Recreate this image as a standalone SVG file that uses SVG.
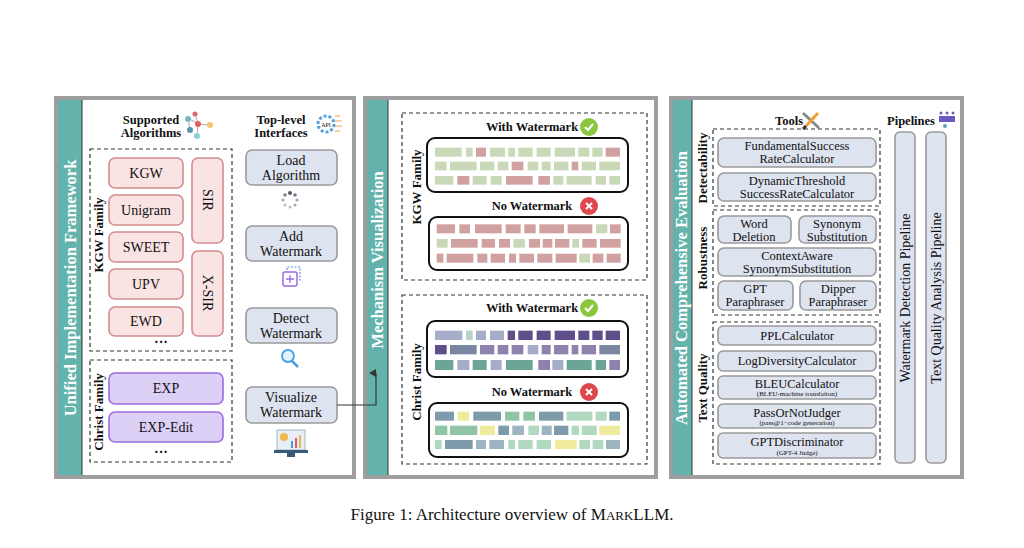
<svg xmlns="http://www.w3.org/2000/svg" width="1024" height="548" viewBox="0 0 1024 548">
<style>
text{font-family:"Liberation Serif","Times New Roman",serif;fill:#111}
.pan{fill:#fff;stroke:#9e9e9e;stroke-width:4}
.strip{fill:#63b2ac}
.st{fill:#fff;font-weight:bold;font-size:16.5px}
.dash{fill:none;stroke:#333;stroke-width:1.2;stroke-dasharray:4 3}
.pk{fill:#f9e3e3;stroke:#d58c8c;stroke-width:1.6}
.pu{fill:#ddd0f7;stroke:#9a6be0;stroke-width:1.6}
.bl{fill:#dde3ef;stroke:#9a9a9a;stroke-width:1.6}
.t13{font-size:14px;text-anchor:middle}
.t12{font-size:12.5px;text-anchor:middle}
.t11{font-size:11px;text-anchor:middle}
.t7{font-size:7px;text-anchor:middle}
.tp{font-size:14px;text-anchor:middle}
.hb{font-size:12.5px;font-weight:bold;text-anchor:middle}
.fb{font-size:13px;font-weight:bold;text-anchor:middle}
.wb{fill:#fff;stroke:#111;stroke-width:2}
.g{fill:#c9d8b7}.r{fill:#d1a0a0}
.A{fill:#a6adc8}.D{fill:#5e4f8b}.S{fill:#7b86a1}.P{fill:#8f81ae}.T{fill:#6ca596}.Tl{fill:#b5d4cb}
.B{fill:#7e9bab}.Y{fill:#efeb9c}.G{fill:#8fc4a6}.L{fill:#b0d9c0}.B2{fill:#9eb4c1}
</style>
<defs>
<marker id="ar" markerWidth="8" markerHeight="8" refX="4" refY="7" orient="auto" markerUnits="userSpaceOnUse"><path d="M0,7 L4,0 L8,7 Z" fill="#333"/></marker>
</defs>

<!-- Panel 1 -->
<g id="panel1">
<rect class="pan" x="56" y="98" width="298" height="379"/>
<rect class="strip" x="58" y="100" width="24" height="375"/>
<line x1="82" y1="100" x2="82" y2="475" stroke="#333" stroke-width="1"/>
<text class="st" text-anchor="middle" transform="translate(76 288) rotate(-90)">Unified Implementation Framework</text>
<text class="hb" x="151" y="124">Supported</text><text class="hb" x="151" y="137">Algorithms</text>
<g><line x1="188" y1="118" x2="198" y2="124" stroke="#aaa"/><line x1="198" y1="124" x2="210" y2="125" stroke="#aaa"/><line x1="198" y1="124" x2="197" y2="136" stroke="#aaa"/><line x1="188" y1="118" x2="190" y2="130" stroke="#aaa"/><line x1="195" y1="114" x2="198" y2="124" stroke="#aaa"/>
<circle cx="188" cy="119" r="3" fill="#7ab8c8"/><circle cx="195" cy="114" r="2.5" fill="#d86b6b"/><circle cx="198" cy="124" r="3" fill="#e06060"/><circle cx="210" cy="125" r="3" fill="#f3c56e"/><circle cx="190" cy="130" r="3" fill="#5b93a8"/><circle cx="197" cy="136" r="3" fill="#8fd0d8"/></g>
<text class="hb" x="281" y="124">Top-level</text><text class="hb" x="281" y="137">Interfaces</text>
<g><circle cx="326" cy="124" r="8" fill="none" stroke="#5aa0e0" stroke-width="3" stroke-dasharray="3 2"/><text x="326" y="127" font-size="6" text-anchor="middle" fill="#5aa0e0">API</text>
<path d="M335,116 h5 M335,121 h7 M335,126 h7 M335,131 h5" stroke="#f0a050" stroke-width="1.2"/></g>
</g>
<g id="kgw-family">
<rect class="dash" x="90" y="149" width="142" height="202"/>
<text class="fb" transform="translate(103 235) rotate(-90)">KGW Family</text>
</g>
<g id="kgw"><rect class="pk" x="109" y="158" width="74" height="30" rx="6"/><text class="t13" x="146" y="178">KGW</text></g>
<g id="unigram"><rect class="pk" x="109" y="195" width="74" height="30" rx="6"/><text class="t13" x="146" y="215">Unigram</text></g>
<g id="sweet"><rect class="pk" x="109" y="232" width="74" height="30" rx="6"/><text class="t13" x="146" y="252">SWEET</text></g>
<g id="upv"><rect class="pk" x="109" y="269" width="74" height="30" rx="6"/><text class="t13" x="146" y="289">UPV</text></g>
<g id="ewd"><rect class="pk" x="109" y="307" width="74" height="29" rx="6"/><text class="t13" x="146" y="326">EWD</text></g>
<g id="sir"><rect class="pk" x="192" y="158" width="31" height="85" rx="6"/><text class="t13" transform="translate(203 200) rotate(90)">SIR</text></g>
<g id="xsir"><rect class="pk" x="192" y="251" width="31" height="85" rx="6"/><text class="t13" transform="translate(203 293) rotate(90)">X-SIR</text></g>
<text x="161" y="347" font-size="14" font-weight="bold" text-anchor="middle">···</text>
<g id="christ-family1">
<rect class="dash" x="90" y="360" width="142" height="102"/>
<text class="fb" transform="translate(103 412) rotate(-90)">Christ Family</text>
</g>
<g id="exp"><rect class="pu" x="109" y="373" width="114" height="31" rx="6"/><text class="t13" x="166" y="393">EXP</text></g>
<g id="exp-edit"><rect class="pu" x="109" y="412" width="114" height="30" rx="6"/><text class="t13" x="166" y="432">EXP-Edit</text></g>
<text x="161" y="457" font-size="14" font-weight="bold" text-anchor="middle">···</text>

<g id="load"><rect class="bl" x="246" y="150" width="91" height="35" rx="6"/><text class="t13" x="291" y="165">Load</text><text class="t13" x="291" y="180">Algorithm</text></g>
<g fill="#9aa">
<circle cx="290" cy="193" r="2" fill="#556"/><circle cx="295" cy="195" r="1.8" fill="#778"/><circle cx="297" cy="200" r="1.6"/><circle cx="295" cy="205" r="1.5"/><circle cx="290" cy="207" r="1.5" fill="#bbb"/><circle cx="285" cy="205" r="1.5" fill="#bbb"/><circle cx="283" cy="200" r="1.6" fill="#aaa"/><circle cx="285" cy="195" r="1.8" fill="#888"/>
</g>
<g id="add"><rect class="bl" x="246" y="226" width="91" height="35" rx="6"/><text class="t13" x="291" y="241">Add</text><text class="t13" x="291" y="256">Watermark</text></g>
<rect x="283" y="272" width="14" height="14" rx="2" fill="none" stroke="#9a6be0" stroke-width="1.5"/><path d="M290,275 v8 M286,279 h8" stroke="#9a6be0" stroke-width="1.3"/>
<path d="M287,270 v-3 h13 v13 h-3" fill="none" stroke="#6b8de0" stroke-width="1.2" stroke-dasharray="2 1.5"/>
<g id="detect"><rect class="bl" x="246" y="308" width="91" height="35" rx="6"/><text class="t13" x="291" y="323">Detect</text><text class="t13" x="291" y="338">Watermark</text></g>
<circle cx="288" cy="356" r="6" fill="#e8f4fc" stroke="#4a9ee0" stroke-width="1.8"/><line x1="292" y1="361" x2="298" y2="367" stroke="#4a9ee0" stroke-width="2.5"/>
<g id="visualize"><rect class="bl" x="246" y="387" width="91" height="36" rx="6"/><text class="t13" x="291" y="402">Visualize</text><text class="t13" x="291" y="417">Watermark</text></g>
<g><rect x="277" y="430" width="28" height="20" fill="#e8eef7" stroke="#8aa" stroke-width="0.8"/><circle cx="284" cy="437" r="4" fill="#f2b84b"/><rect x="291" y="441" width="2" height="7" fill="#4a9ee0"/><rect x="295" y="438" width="2" height="10" fill="#e05c5c"/><rect x="299" y="435" width="2" height="13" fill="#f2b84b"/><rect x="274" y="450" width="34" height="3" fill="#3a5a7a"/><rect x="287" y="453" width="8" height="4" fill="#3a5a7a"/></g>

<!-- Panel 2 -->
<g id="panel2">
<rect class="pan" x="365" y="98" width="291" height="379"/>
<rect class="strip" x="367" y="100" width="21" height="375"/>
<line x1="388" y1="100" x2="388" y2="475" stroke="#333" stroke-width="1"/>
<text class="st" text-anchor="middle" transform="translate(383 260) rotate(-90)">Mechanism Visualization</text>
</g>
<g id="kgw-vis">
<rect class="dash" x="402" y="113" width="245" height="167"/>
<text class="fb" transform="translate(421 187) rotate(-90)">KGW Family</text>
<text class="hb" x="532" y="131">With Watermark</text>
<circle cx="589" cy="127" r="9" fill="#8cc63f"/><path d="M585,127 l3,3 l5,-6" fill="none" stroke="#fff" stroke-width="2"/>
<rect class="wb" x="427" y="138" width="201" height="54" rx="8"/>
<text class="hb" x="532" y="210">No Watermark</text>
<circle cx="589" cy="206" r="9" fill="#e0474c"/><path d="M586,203 l6,6 M592,203 l-6,6" stroke="#fff" stroke-width="2"/>
<rect class="wb" x="429" y="217" width="199" height="53" rx="8"/>
</g>
<g id="christ-vis">
<rect class="dash" x="402" y="295" width="245" height="169"/>
<text class="fb" transform="translate(421 382) rotate(-90)">Christ Family</text>
<text class="hb" x="532" y="312">With Watermark</text>
<circle cx="589" cy="308" r="9" fill="#8cc63f"/><path d="M585,308 l3,3 l5,-6" fill="none" stroke="#fff" stroke-width="2"/>
<rect class="wb" x="427" y="321" width="201" height="56" rx="8"/>
<text class="hb" x="532" y="396">No Watermark</text>
<circle cx="589" cy="392" r="9" fill="#e0474c"/><path d="M586,389 l6,6 M592,389 l-6,6" stroke="#fff" stroke-width="2"/>
<rect class="wb" x="429" y="403" width="199" height="54" rx="8"/>
</g>
<g id="bars" transform="translate(360 95) scale(0.33333)">
<g transform="translate(0 158)">
<rect class="g" x="225" width="80" height="27"/><rect class="g" x="318" width="20" height="27"/><rect class="r" x="348" width="30" height="27"/><rect class="g" x="390" width="45" height="27"/><rect class="g" x="445" width="20" height="27"/><rect class="g" x="475" width="43" height="27"/><rect class="g" x="530" width="42" height="27"/><rect class="g" x="584" width="61" height="27"/><rect class="g" x="655" width="33" height="27"/><rect class="g" x="697" width="31" height="27"/><rect class="r" x="737" width="43" height="27"/>
</g>
<g transform="translate(0 200)">
<rect class="g" x="225" width="35" height="26"/><rect class="g" x="270" width="80" height="26"/><rect class="g" x="360" width="43" height="26"/><rect class="g" x="413" width="32" height="26"/><rect class="r" x="455" width="35" height="26"/><rect class="g" x="503" width="32" height="26"/><rect class="g" x="545" width="27" height="26"/><rect class="g" x="582" width="43" height="26"/><rect class="r" x="635" width="20" height="26"/><rect class="g" x="665" width="43" height="26"/><rect class="g" x="718" width="62" height="26"/>
</g>
<g transform="translate(0 243)">
<rect class="g" x="225" width="55" height="26"/><rect class="r" x="292" width="36" height="26"/><rect class="g" x="338" width="42" height="26"/><rect class="g" x="392" width="33" height="26"/><rect class="r" x="438" width="80" height="26"/><rect class="r" x="535" width="35" height="26"/><rect class="g" x="580" width="30" height="26"/><rect class="g" x="620" width="75" height="26"/><rect class="g" x="707" width="31" height="26"/><rect class="g" x="748" width="32" height="26"/>
</g>
<g transform="translate(0 388)">
<rect class="r" x="230" width="55" height="27"/><rect class="r" x="298" width="32" height="27"/><rect class="r" x="345" width="80" height="27"/><rect class="r" x="437" width="45" height="27"/><rect class="r" x="493" width="34" height="27"/><rect class="r" x="538" width="74" height="27"/><rect class="r" x="623" width="74" height="27"/><rect class="g" x="708" width="34" height="27"/><rect class="r" x="750" width="32" height="27"/>
</g>
<g transform="translate(0 432)">
<rect class="g" x="230" width="33" height="26"/><rect class="r" x="273" width="80" height="26"/><rect class="r" x="365" width="40" height="26"/><rect class="r" x="417" width="33" height="26"/><rect class="g" x="460" width="35" height="26"/><rect class="r" x="507" width="33" height="26"/><rect class="r" x="548" width="29" height="26"/><rect class="r" x="585" width="43" height="26"/><rect class="g" x="637" width="20" height="26"/><rect class="r" x="667" width="43" height="26"/><rect class="r" x="720" width="62" height="26"/>
</g>
<g transform="translate(0 476)">
<rect class="r" x="230" width="20" height="27"/><rect class="r" x="260" width="80" height="27"/><rect class="r" x="352" width="30" height="27"/><rect class="r" x="392" width="43" height="27"/><rect class="r" x="447" width="21" height="27"/><rect class="r" x="478" width="44" height="27"/><rect class="r" x="532" width="45" height="27"/><rect class="r" x="587" width="63" height="27"/><rect class="g" x="658" width="32" height="27"/><rect class="r" x="698" width="32" height="27"/><rect class="r" x="740" width="42" height="27"/>
</g>
<g transform="translate(0 707)">
<rect class="A" x="225" width="82" height="28"/><rect class="Tl" x="318" width="20" height="28"/><rect class="A" x="348" width="30" height="28"/><rect class="A" x="390" width="42" height="28"/><rect class="D" x="443" width="22" height="28"/><rect class="D" x="475" width="43" height="28"/><rect class="D" x="530" width="42" height="28"/><rect class="D" x="584" width="61" height="28"/><rect class="D" x="655" width="33" height="28"/><rect class="D" x="697" width="31" height="28"/><rect class="D" x="737" width="43" height="28"/>
</g>
<g transform="translate(0 750)">
<rect class="D" x="225" width="35" height="28"/><rect class="S" x="270" width="80" height="28"/><rect class="P" x="360" width="43" height="28"/><rect class="P" x="413" width="32" height="28"/><rect class="P" x="455" width="35" height="28"/><rect class="A" x="503" width="32" height="28"/><rect class="P" x="545" width="27" height="28"/><rect class="P" x="582" width="43" height="28"/><rect class="P" x="635" width="20" height="28"/><rect class="P" x="665" width="43" height="28"/><rect class="S" x="718" width="62" height="28"/>
</g>
<g transform="translate(0 795)">
<rect class="T" x="225" width="55" height="30"/><rect class="A" x="292" width="36" height="30"/><rect class="T" x="338" width="42" height="30"/><rect class="A" x="392" width="33" height="30"/><rect class="T" x="438" width="80" height="30"/><rect class="P" x="535" width="35" height="30"/><rect class="A" x="577" width="33" height="30"/><rect class="T" x="620" width="75" height="30"/><rect class="T" x="707" width="31" height="30"/><rect class="P" x="748" width="32" height="30"/>
</g>
<g transform="translate(0 950)">
<rect class="B" x="225" width="57" height="27"/><rect class="Y" x="293" width="34" height="27"/><rect class="B" x="340" width="83" height="27"/><rect class="G" x="435" width="43" height="27"/><rect class="G" x="490" width="35" height="27"/><rect class="B" x="537" width="73" height="27"/><rect class="L" x="620" width="77" height="27"/><rect class="L" x="707" width="33" height="27"/><rect class="B" x="748" width="32" height="27"/>
</g>
<g transform="translate(0 992)">
<rect class="G" x="225" width="37" height="28"/><rect class="G" x="270" width="82" height="28"/><rect class="Y" x="360" width="45" height="28"/><rect class="B" x="415" width="32" height="28"/><rect class="B2" x="457" width="35" height="28"/><rect class="L" x="505" width="32" height="28"/><rect class="B2" x="545" width="30" height="28"/><rect class="B" x="582" width="43" height="28"/><rect class="L" x="635" width="22" height="28"/><rect class="L" x="665" width="45" height="28"/><rect class="Y" x="718" width="62" height="28"/>
</g>
<g transform="translate(0 1035)">
<rect class="L" x="225" width="20" height="27"/><rect class="B" x="255" width="83" height="27"/><rect class="B2" x="348" width="30" height="27"/><rect class="B2" x="388" width="44" height="27"/><rect class="L" x="445" width="20" height="27"/><rect class="L" x="475" width="43" height="27"/><rect class="L" x="530" width="43" height="27"/><rect class="Y" x="585" width="65" height="27"/><rect class="L" x="658" width="32" height="27"/><rect class="L" x="698" width="32" height="27"/><rect class="B2" x="738" width="42" height="27"/>
</g>
</g>

<!-- Panel 3 -->
<g id="panel3">
<rect class="pan" x="671" y="98" width="291" height="379"/>
<rect class="strip" x="673" y="100" width="19" height="375"/>
<line x1="692" y1="100" x2="692" y2="475" stroke="#333" stroke-width="1"/>
<text class="st" text-anchor="middle" transform="translate(687 288) rotate(-90)">Automated Comprehensive Evaluation</text>
<text class="hb" x="789" y="125">Tools</text>
<g><line x1="803" y1="113" x2="819" y2="128" stroke="#888" stroke-width="3"/><line x1="818" y1="113" x2="806" y2="126" stroke="#f0a030" stroke-width="3"/><line x1="806" y1="126" x2="803" y2="129" stroke="#333" stroke-width="3"/></g>
<text class="hb" x="911" y="125">Pipelines</text>
<g><rect x="939" y="116" width="16" height="6" fill="#6a5ac0"/><circle cx="941" cy="113" r="1.5" fill="#6a5ac0"/><circle cx="947" cy="113" r="1.5" fill="#6a5ac0"/><circle cx="953" cy="113" r="1.5" fill="#6a5ac0"/><circle cx="945" cy="126" r="2" fill="#5aa0c0"/></g>
</g>
<g id="detectability">
<rect class="dash" x="713" y="129" width="167" height="77"/>
<text class="fb" transform="translate(707 168) rotate(-90)">Detectability</text>
</g>
<g id="fsr"><rect class="bl" x="718" y="138" width="158" height="29" rx="6"/><text class="t12" x="797" y="150">FundamentalSuccess</text><text class="t12" x="797" y="163">RateCalculator</text></g>
<g id="dtsr"><rect class="bl" x="718" y="173" width="158" height="28" rx="6"/><text class="t12" x="797" y="185">DynamicThreshold</text><text class="t12" x="797" y="198">SuccessRateCalculator</text></g>
<g id="robustness">
<rect class="dash" x="713" y="210" width="167" height="105"/>
<text class="fb" transform="translate(707 258) rotate(-90)">Robustness</text>
</g>
<g id="wd"><rect class="bl" x="718" y="216" width="73" height="27" rx="6"/><text class="t12" x="754" y="228">Word</text><text class="t12" x="754" y="241">Deletion</text></g>
<g id="ss"><rect class="bl" x="799" y="216" width="77" height="27" rx="6"/><text class="t12" x="837" y="228">Synonym</text><text class="t12" x="837" y="241">Substitution</text></g>
<g id="cass"><rect class="bl" x="718" y="248" width="158" height="28" rx="6"/><text class="t12" x="797" y="260">ContextAware</text><text class="t12" x="797" y="273">SynonymSubstitution</text></g>
<g id="gptp"><rect class="bl" x="718" y="281" width="75" height="29" rx="6"/><text class="t12" x="755" y="293">GPT</text><text class="t12" x="755" y="306">Paraphraser</text></g>
<g id="dip"><rect class="bl" x="800" y="281" width="76" height="29" rx="6"/><text class="t12" x="838" y="293">Dipper</text><text class="t12" x="838" y="306">Paraphraser</text></g>
<g id="textquality">
<rect class="dash" x="713" y="322" width="167" height="142"/>
<text class="fb" transform="translate(707 388) rotate(-90)">Text Quality</text>
</g>
<g id="ppl"><rect class="bl" x="718" y="326" width="158" height="19" rx="5"/><text class="t12" x="797" y="340">PPLCalculator</text></g>
<g id="logd"><rect class="bl" x="718" y="351" width="158" height="20" rx="5"/><text class="t12" x="797" y="365">LogDiversityCalculator</text></g>
<g id="bleu"><rect class="bl" x="718" y="376" width="158" height="23" rx="5"/><text class="t12" x="797" y="388">BLEUCalculator</text><text class="t7" x="797" y="396">(BLEU-machine translation)</text></g>
<g id="pass"><rect class="bl" x="718" y="404" width="158" height="24" rx="5"/><text class="t12" x="797" y="417">PassOrNotJudger</text><text class="t7" x="797" y="425">(pass@1−code generation)</text></g>
<g id="gptd"><rect class="bl" x="718" y="433" width="158" height="25" rx="5"/><text class="t12" x="797" y="446">GPTDiscriminator</text><text class="t7" x="797" y="455">(GPT-4 Judge)</text></g>
<g id="wdp"><rect class="bl" x="895" y="132" width="20" height="331" rx="5"/><text class="tp" transform="translate(910 298) rotate(-90)">Watermark Detection Pipeline</text></g>
<g id="tqap"><rect class="bl" x="926" y="132" width="20" height="331" rx="5"/><text class="tp" transform="translate(941 298) rotate(-90)">Text Quality Analysis Pipeline</text></g>

<g id="connectors">
<path d="M337,405 H376 V373" fill="none" stroke="#333" stroke-width="1.2" marker-end="url(#ar)"/>
</g>

<text x="512" y="520" font-size="17" text-anchor="middle">Figure 1: Architecture overview of M<tspan font-size="13">ARK</tspan>LLM.</text>
</svg>
